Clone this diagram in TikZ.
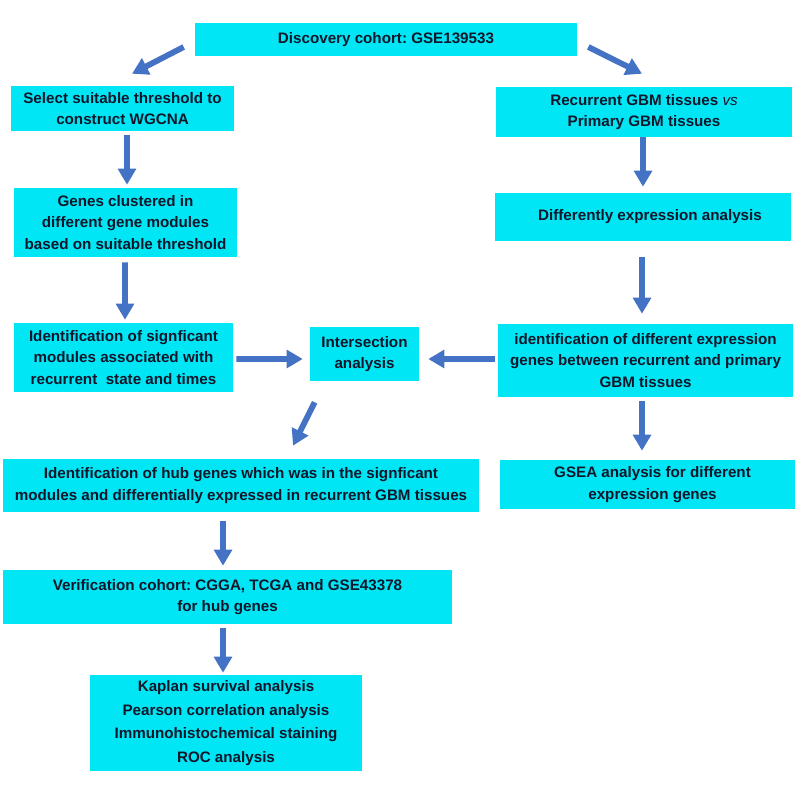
\documentclass[tikz,border=0pt]{standalone}
\usepackage{fontspec}
\setmainfont{Liberation Sans}
\usepackage{tikz}
\usetikzlibrary{arrows.meta,positioning}
\definecolor{boxcyan}{RGB}{0,230,245}
\definecolor{arrowblue}{RGB}{68,114,196}
\definecolor{txtnavy}{RGB}{18,22,42}
\frenchspacing

\begin{document}
\begin{tikzpicture}[x=0.025cm,y=-0.025cm,
  box/.style={fill=boxcyan,text=txtnavy,align=center,inner sep=0pt,font=\bfseries\fontsize{10.8}{15.5}\selectfont},
  arr/.style={-{Triangle[width=0.44cm,length=0.4cm]},line width=0.145cm,draw=arrowblue}]
  \useasboundingbox (0,0) rectangle (800,800);

  \node[box,minimum width=9.55cm,minimum height=0.825cm] (disc) at (386,39.5) {Discovery cohort: GSE139533};
  \node[box,minimum width=5.575cm,minimum height=1.125cm] (sel) at (122.5,108.5) {Select suitable threshold to\\construct WGCNA};
  \node[box,minimum width=7.4cm,minimum height=1.25cm] (rec) at (644,112) {Recurrent GBM tissues {\mdseries\itshape vs}\\Primary GBM tissues};
  \node[box,minimum width=5.575cm,minimum height=1.725cm] (gen) at (125.5,222.5) {Genes clustered in\\different gene modules\\based on suitable threshold};
  \node[box,minimum width=7.4cm,minimum height=1.2cm] (diff) at (643,217) {\hspace{0.35cm}Differently expression analysis};
  \node[box,minimum width=5.475cm,minimum height=1.725cm] (ident) at (123.5,357.5) {Identification of signficant\\modules associated with\\recurrent\ \ state and times};
  \node[box,minimum width=2.725cm,minimum height=1.35cm] (inter) at (364.5,354) {Intersection\\analysis};
  \node[box,minimum width=7.375cm,minimum height=1.825cm] (idexp) at (645.5,360.5) {identification of different expression\\genes between recurrent and primary\\GBM tissues};
  \node[box,minimum width=11.9cm,minimum height=1.325cm] (hub) at (241,485.5) {Identification of hub genes which was in the signficant\\modules and differentially expressed in recurrent GBM tissues};
  \node[box,minimum width=7.375cm,minimum height=1.225cm] (gsea) at (647.5,484.5) {\hspace{0.25cm}GSEA analysis for different\\\hspace{0.25cm}expression genes};
  \node[box,minimum width=11.225cm,minimum height=1.35cm] (ver) at (227.5,597) {Verification cohort: CGGA, TCGA and GSE43378\\for hub genes};
  \node[box,minimum width=6.8cm,minimum height=2.4cm,font=\bfseries\fontsize{10.8}{16.7}\selectfont] (kap) at (226,723) {Kaplan survival analysis\\Pearson correlation analysis\\Immunohistochemical staining\\ROC analysis};

  \draw[arr] ([shift={(-11,7.5)}]disc.west) -- ([shift={(9.5,-12)}]sel.north);
  \draw[arr] ([shift={(11,7.5)}]disc.east) -- ([shift={(-2,-13)}]rec.north);
  \draw[arr] ([shift={(4.5,4)}]sel.south) -- ([shift={(1.5,-3)}]gen.north);
  \draw[arr] ([shift={(-1,0)}]rec.south) -- ([shift={(0,-6)}]diff.north);
  \draw[arr] ([shift={(-0.5,5)}]gen.south) -- ([shift={(1.5,-3)}]ident.north);
  \draw[arr] ([shift={(-1,16)}]diff.south) -- ([shift={(-3.5,-10)}]idexp.north);
  \draw[arr] ([shift={(3,1.5)}]ident.east) -- ([shift={(-7,5)}]inter.west);
  \draw[arr] ([shift={(-3,-1.5)}]idexp.west) -- ([shift={(9,5)}]inter.east);
  \draw[arr] ([shift={(5,21)}]inter.south west) -- ([shift={(52,-13)}]hub.north);
  \draw[arr] ([shift={(-3.5,4)}]idexp.south) -- ([shift={(-5.5,-9)}]gsea.north);
  \draw[arr] ([shift={(-18,9)}]hub.south) -- ([shift={(-4.5,-4)}]ver.north);
  \draw[arr] ([shift={(-4.5,4)}]ver.south) -- ([shift={(-3,-2)}]kap.north);
\end{tikzpicture}
\end{document}
